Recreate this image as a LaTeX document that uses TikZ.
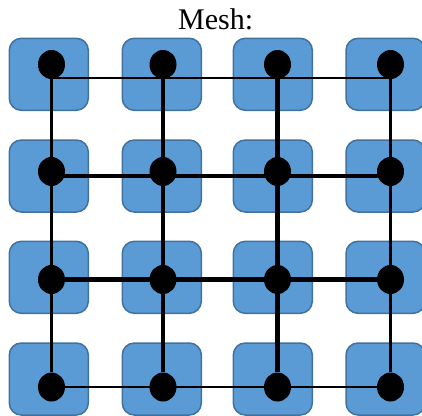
\documentclass[tikz,border=0pt]{standalone}
\usepackage{fontspec}
\setmainfont{Liberation Serif}
\usetikzlibrary{shapes.geometric}
\definecolor{tileblue}{RGB}{91,155,213}
\definecolor{tileedge}{RGB}{65,113,156}
\begin{document}
\begin{tikzpicture}[x=1pt,y=-1pt,
  tile/.style={draw=tileedge, line width=1.5pt, fill=tileblue, rounded corners=12pt,
               minimum width=79pt, minimum height=72pt, inner sep=0pt},
  router/.style={ellipse, fill=black, minimum width=27pt, minimum height=29pt, inner sep=0pt},
  thinlink/.style={line width=2.2pt},
  thicklink/.style={line width=4.2pt}]
\useasboundingbox (0,0) rectangle (422,415);

% title
\node[font=\fontsize{30}{36}\selectfont, anchor=base, inner sep=0pt] (title) at (215.6,29) {Mesh:};

% processing tiles
\foreach \r/\y in {1/74.3,2/176,3/277.3,4/379}
  \foreach \c/\x in {1/48.8,2/161.8,3/272.8,4/385.5}
    \node[tile] (b\r\c) at (\x,\y) {};

% routers
\foreach \r/\y in {1/64.5,2/171.5,3/279.5,4/387}
  \foreach \c/\x in {1/51.5,2/163,3/277.5,4/390.5}
    \node[router] (d\r\c) at (\x,\y) {};

% horizontal links
\draw[thinlink]  ([yshift=1.5pt]d11.south) -- ([yshift=1.5pt]d14.south);
\draw[thicklink] ([yshift=-4.5pt]d21.center) -- ([yshift=-4.5pt]d24.center);
\draw[thicklink] (d31) -- (d34);
\draw[thinlink]  (d41) -- (d44);

% vertical links
\draw[thinlink]  ([yshift=1.5pt]d11.south) -- (d41);
\draw[thicklink] (d12) -- (d42);
\draw[thicklink] (d13) -- (d43);
\draw[thinlink]  (d14) -- (d44);
\end{tikzpicture}
\end{document}
